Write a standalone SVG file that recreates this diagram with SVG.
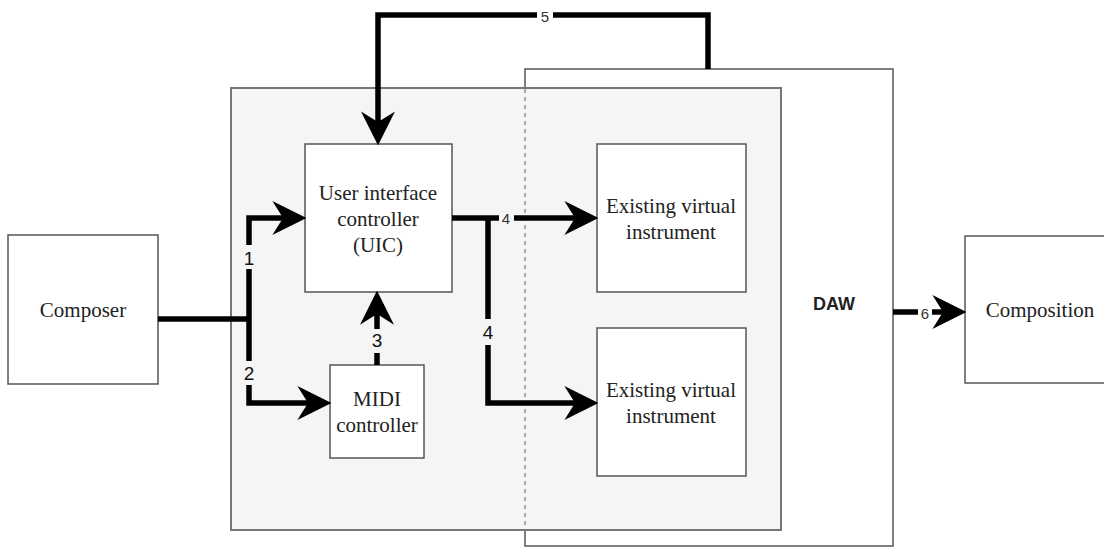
<svg xmlns="http://www.w3.org/2000/svg" width="1104" height="548" viewBox="0 0 1104 548">
<style>
.box{fill:#ffffff;stroke:#555;stroke-width:1.5}
.cont{fill:#f5f5f5;stroke:#777;stroke-width:2}
.t{font-family:"Liberation Serif","Times New Roman",serif;font-size:21px;fill:#222;text-anchor:middle;dominant-baseline:central}
.lbl{font-family:"Liberation Sans",Arial,sans-serif;font-size:19px;fill:#111;text-anchor:middle;dominant-baseline:central}
.lbs{font-family:"Liberation Sans",Arial,sans-serif;font-size:15px;fill:#333;text-anchor:middle;dominant-baseline:central}
.w{fill:none;stroke:#000;stroke-width:5.5;stroke-linejoin:miter;stroke-linecap:butt}
.a{marker-end:url(#ah)}
</style>
<defs>
<marker id="ah" markerUnits="userSpaceOnUse" markerWidth="34" markerHeight="34" viewBox="0 0 32 32" refX="10" refY="16" orient="auto">
<path d="M0,0 L32,16 L0,32 L10,16 Z" fill="#000"/>
</marker>
</defs>
<g id="daw">
<rect class="box" x="525" y="69" width="368" height="477" fill="#fff" stroke="#666"/>
<text x="834" y="304" style="font-family:'Liberation Sans',Arial,sans-serif;font-size:18px;font-weight:bold;fill:#222;text-anchor:middle;dominant-baseline:central">DAW</text>
</g>
<g id="container">
<rect class="cont" x="231" y="88" width="550" height="442"/>
<line x1="525" y1="89" x2="525" y2="529" stroke="#aaa" stroke-width="2" stroke-dasharray="4 4"/>
</g>
<g id="composer">
<rect class="box" x="8" y="235" width="150" height="149"/>
<text class="t" x="83" y="310">Composer</text>
</g>
<g id="composition">
<rect class="box" x="965" y="236" width="150" height="147"/>
<text class="t" x="1040" y="310">Composition</text>
</g>
<g id="uic">
<rect class="box" x="305" y="144" width="147" height="148"/>
<text class="t" x="378" y="193">User interface</text>
<text class="t" x="378" y="219">controller</text>
<text class="t" x="378" y="245">(UIC)</text>
</g>
<g id="midi">
<rect class="box" x="330" y="365" width="94" height="93"/>
<text class="t" x="377" y="399">MIDI</text>
<text class="t" x="377" y="425">controller</text>
</g>
<g id="evi1">
<rect class="box" x="597" y="144" width="149" height="148"/>
<text class="t" x="671" y="206">Existing virtual</text>
<text class="t" x="671" y="232">instrument</text>
</g>
<g id="evi2">
<rect class="box" x="597" y="328" width="149" height="148"/>
<text class="t" x="671" y="390">Existing virtual</text>
<text class="t" x="671" y="416">instrument</text>
</g>
<g id="connectors">
<path class="w" d="M158,319 H249"/>
<path class="w a" d="M249,319 V218 H283"/>
<path class="w a" d="M249,319 V403 H308"/>
<path class="w a" d="M377,365 V314"/>
<path class="w a" d="M452,218 H575"/>
<path class="w a" d="M488,218 V403 H575"/>
<path class="w a" d="M708,69 V15 H378 V122"/>
<path class="w a" d="M893,312 H943"/>
<rect x="240" y="245" width="18" height="24" fill="#f5f5f5"/>
<text class="lbl" x="249" y="258">1</text>
<rect x="240" y="361" width="18" height="24" fill="#f5f5f5"/>
<text class="lbl" x="249" y="373">2</text>
<rect x="368" y="329" width="18" height="24" fill="#f5f5f5"/>
<text class="lbl" x="377" y="340">3</text>
<rect x="479" y="319" width="18" height="26" fill="#f5f5f5"/>
<text class="lbl" x="488" y="332">4</text>
<rect x="499" y="210" width="15" height="16" fill="#f5f5f5"/>
<text class="lbs" x="506" y="218">4</text>
<rect x="537" y="7" width="16" height="16" fill="#fff"/>
<text class="lbs" x="545" y="16">5</text>
<rect x="918" y="305" width="14" height="14" fill="#fff"/>
<text class="lbs" x="925" y="313">6</text>
</g>
</svg>
